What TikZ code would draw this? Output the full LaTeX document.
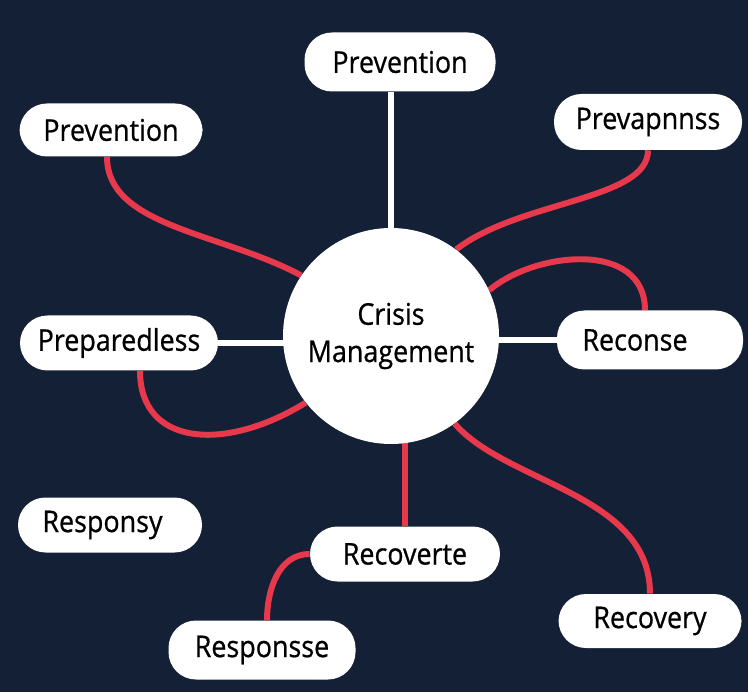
\documentclass[tikz,border=0pt]{standalone}
\usepackage{fontspec}
\setmainfont{Open Sans}
\newfontfamily\lblfont{Open Sans}[FakeStretch=0.9,FakeBold=0.7]
\usetikzlibrary{positioning,calc,backgrounds}
\definecolor{navy}{RGB}{20,32,54}
\definecolor{crimson}{RGB}{232,56,76}

\begin{document}
\begin{tikzpicture}[
  pill/.style={fill=white,rounded corners=0.55cm,inner sep=2pt,
               minimum height=1.12cm,font=\lblfont\fontsize{17}{21}\selectfont,
               text=black,align=center},
  hub/.style={circle,fill=white,minimum size=4.32cm,inner sep=0pt,
              font=\lblfont\fontsize{17}{21.2}\selectfont,text=black,align=center},
  wl/.style={draw=white,line width=3.2pt},
  rl/.style={draw=crimson,line width=3.4pt}
]
\useasboundingbox (0,0) rectangle (14.96,-13.84);

\node[hub] (hub) at (7.82,-6.72) {Crisis\\Management};

\node[pill,minimum width=3.82cm,minimum height=1.18cm] (topprev)   at (8.00,-1.24)  {Prevention};
\node[pill,minimum width=3.66cm,minimum height=1.06cm] (leftprev)  at (2.22,-2.60)  {Prevention};
\node[pill,minimum width=3.76cm]                       (prevap)    at (12.96,-2.44) {Prevapnnss};
\node[pill,minimum width=3.96cm,minimum height=1.10cm] (prepared)  at (2.38,-6.86)  {Preparedless};
\node[pill,minimum width=3.72cm,minimum height=1.18cm] (reconse)   at (13.00,-6.80) {Reconse\hspace*{0.6cm}};
\node[pill,minimum width=3.68cm,minimum height=1.10cm] (responsy)  at (2.20,-10.50) {Responsy\hspace*{0.3cm}};
\node[pill,minimum width=3.80cm,minimum height=1.10cm] (recoverte) at (8.10,-11.08) {Recoverte};
\node[pill,minimum width=3.74cm,minimum height=1.18cm] (responsse) at (5.24,-13.00) {Responsse};
\node[pill,minimum width=3.66cm,minimum height=1.08cm] (recovery)  at (13.00,-12.42) {Recovery};

\begin{scope}[on background layer]
\fill[navy] (0,0) rectangle (14.96,-13.84);

% straight white spokes
\draw[wl] (hub) -- (hub |- topprev.south);
\draw[wl] (prepared.east) -- (prepared.east -| hub);
\draw[wl] (reconse.west) -- (reconse.west -| hub);

% Prevention (left) -> hub
\draw[rl] ([xshift=-0.08cm]leftprev.south) .. controls +(0,-1.4) and +(-1.6,0.86) .. (hub.146);

% Prevapnnss -> hub
\draw[rl] (prevap.south) .. controls +(0,-1.0) and +(1.26,0.98) .. (hub.53);

% arch over to Reconse
\draw[rl] (hub.25) .. controls +(0.92,0.78) and +(0,1.4) .. ([xshift=-0.1cm]reconse.north);

% loop under Preparedless
\draw[rl] ([xshift=0.42cm]prepared.south) .. controls +(0,-1.5) and +(-1.62,-1.0) .. (hub.218);

% hub -> Recoverte
\draw[rl] (recoverte.north) -- (recoverte.north |- hub);

% hub -> Recovery
\draw[rl] (hub.-54) .. controls +(1.04,-1.2) and +(0,2.0) .. (recovery.north);

% Recoverte -> Responsse
\draw[rl] (recoverte.west) to[out=180,in=90] ([xshift=0.1cm]responsse.north);
\end{scope}

\end{tikzpicture}
\end{document}
